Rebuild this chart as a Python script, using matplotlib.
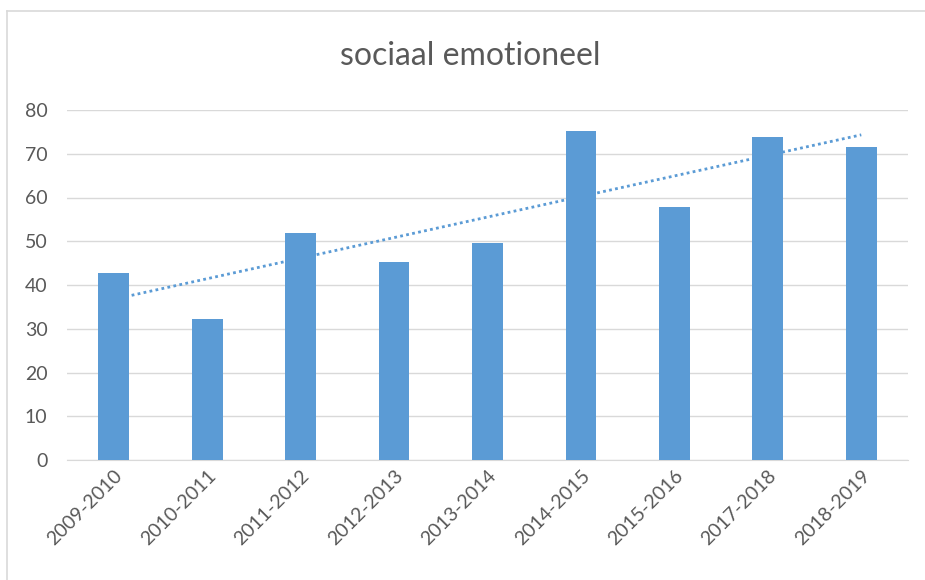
import numpy as np
import matplotlib
matplotlib.use('Agg')
import matplotlib.pyplot as plt
from matplotlib.lines import Line2D

# Data
years = ['2009-2010', '2010-2011', '2011-2012', '2012-2013', '2013-2014',
         '2014-2015', '2015-2016', '2017-2018', '2018-2019']
scores = [42.7, 32.2, 51.8, 45.3, 49.5, 75.2, 57.8, 73.8, 71.5]

plt.rcParams['font.family'] = ['Lato', 'DejaVu Sans']

fig = plt.figure(figsize=(9.25, 5.8), dpi=100)
ax = fig.add_axes([67 / 925, 1 - 460 / 580, 841 / 925, 350 / 580])

x = np.arange(len(years))
ax.bar(x, scores, width=0.33, color='#5b9bd5', zorder=3)

# Linear trendline, as Excel draws it
coef = np.polyfit(x, scores, 1)
ax.plot(x, np.polyval(coef, x), color='#5b9bd5', linestyle=(0, (1, 1.2)),
        linewidth=2, zorder=2)

ax.set_xlim(-0.5, len(years) - 0.5)
ax.set_ylim(0, 80)
ax.set_yticks(range(0, 81, 10))
ax.yaxis.grid(True, color='#d9d9d9', linewidth=1, zorder=0)
ax.set_axisbelow(True)
for s in ['top', 'right', 'left']:
    ax.spines[s].set_visible(False)
ax.spines['bottom'].set_color('#d9d9d9')
ax.tick_params(axis='both', length=0, colors='#595959', labelsize=14)
ax.tick_params(axis='y', pad=14)
ax.set_xticks(x)
ax.set_xticklabels(years, rotation=45, ha='right', rotation_mode='anchor')
ax.tick_params(axis='x', pad=5)

fig.text(470 / 925, 1 - 56 / 580, 'sociaal emotioneel', ha='center', va='center',
         fontsize=23, color='#595959')

# chart frame
fig.add_artist(Line2D([7 / 925, 7 / 925], [0, 1 - 11 / 580], color='#d9d9d9', linewidth=1.2))
fig.add_artist(Line2D([7 / 925, 1], [1 - 11 / 580, 1 - 11 / 580], color='#d9d9d9', linewidth=1.2))

fig.savefig('out.png', dpi=100)
